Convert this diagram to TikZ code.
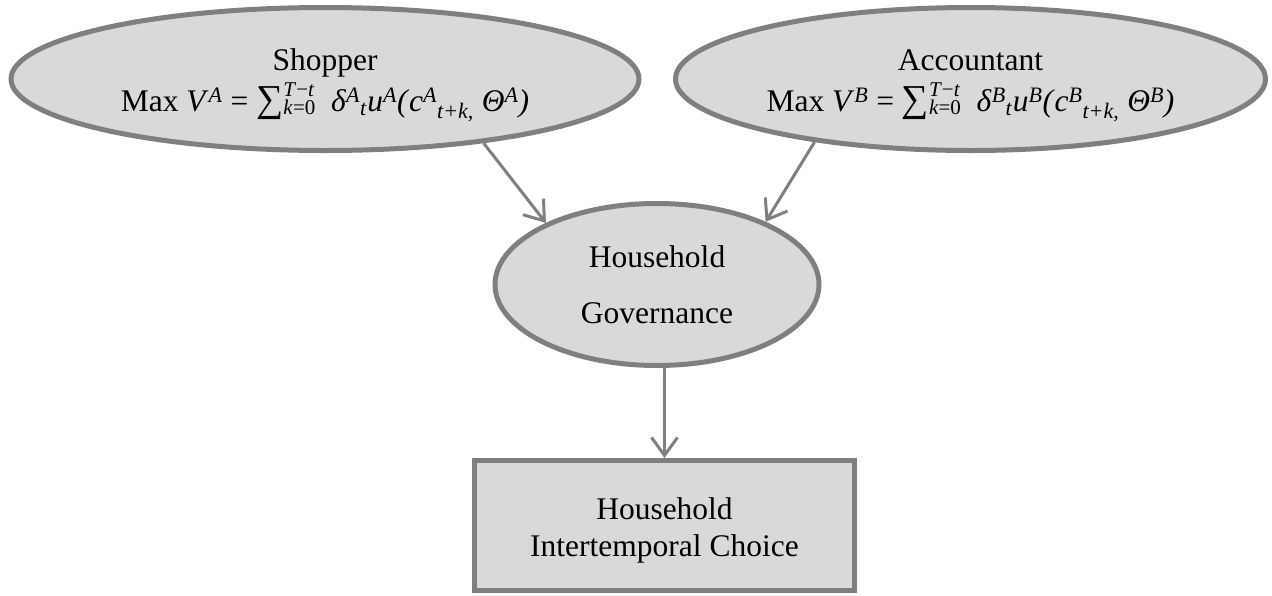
\documentclass[tikz,border=0pt]{standalone}
\usepackage{fontspec}
\setmainfont{Liberation Serif}
\usetikzlibrary{shapes.geometric,arrows.meta}
\definecolor{boxfill}{HTML}{D9D9D9}
\definecolor{boxline}{HTML}{7F7F7F}
\newcommand{\vi}[1]{\textit{#1}}
\newcommand{\spA}[1]{\textsuperscript{\textit{#1}}}
\newcommand{\sbA}[1]{\textsubscript{\textit{#1}}}
\newcommand{\scr}{\fontsize{21}{21}\selectfont}
\newcommand{\sumx}{{\fontsize{38}{38}\selectfont ∑}\rlap{\raisebox{15pt}{\scr\textit{T}−\textit{t}}}\raisebox{-3pt}{\scr\textit{k}=0}}
\newcommand{\lines}[2][0pt]{\raisebox{#1}[\height][\depth]{\begin{tabular}{@{}c@{}}#2\end{tabular}}}
\begin{document}
\begin{tikzpicture}[x=1pt,y=-1pt,
  agent/.style={ellipse, draw=boxline, line width=5pt, fill=boxfill, inner sep=0pt,
    font=\fontsize{31.5}{40}\selectfont},
  govbox/.style={ellipse, draw=boxline, line width=5pt, fill=boxfill, inner sep=0pt,
    font=\fontsize{31.5}{56}\selectfont},
  outbox/.style={rectangle, draw=boxline, line width=5pt, fill=boxfill, inner sep=0pt,
    font=\fontsize{31.5}{37}\selectfont},
  conn/.style={draw=boxline, line width=3pt, -{Straight Barb[length=18pt,width=26pt]}}
]
\useasboundingbox (0,0) rectangle (1272,595);

\node[agent, minimum width=628pt, minimum height=143pt] (shop) at (325,79)
  {\lines[-4pt]{Shopper\\Max \vi{V}\spA{A} = \sumx\ \ \vi{δ}\spA{A}\sbA{t}\vi{u}\spA{A}\vi{(}\vi{c}\spA{A}\sbA{t+k,} \vi{Θ}\spA{A}\vi{)}}};

\node[agent, minimum width=590pt, minimum height=143pt] (acct) at (970.5,79)
  {\lines[-4pt]{Accountant\\Max \vi{V}\spA{B} = \sumx\ \ \vi{δ}\spA{B}\sbA{t}\vi{u}\spA{B}\vi{(}\vi{c}\spA{B}\sbA{t+k,} \vi{Θ}\spA{B}\vi{)}}};

\node[govbox, minimum width=324pt, minimum height=162pt] (gov) at (657,284.5)
  {\lines{Household\\Governance}};

\node[outbox, minimum width=380pt, minimum height=130pt] (choice) at (664.5,525.5)
  {\lines[-5pt]{Household\\Intertemporal Choice}};

\draw[conn] (shop.-22) -- (gov.151.6);
\draw[conn] (acct.-158) -- (gov.30.6);
\draw[conn] (gov.south -| choice.north) -- (choice.north);
\end{tikzpicture}
\end{document}
